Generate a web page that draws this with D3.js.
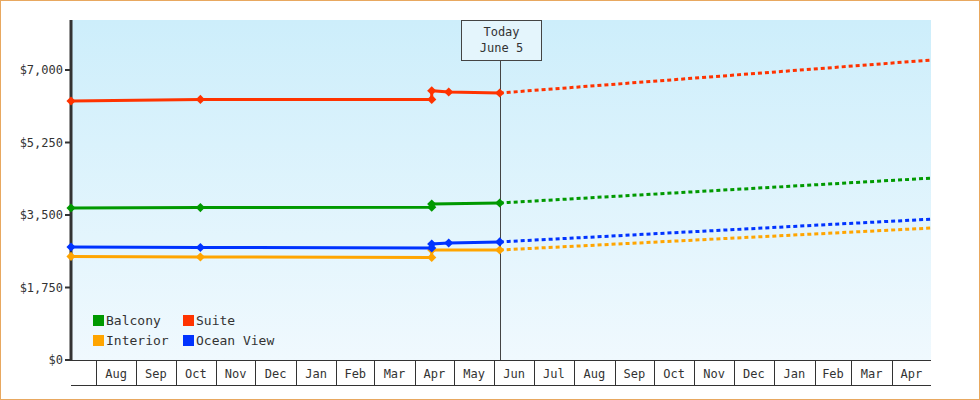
<!DOCTYPE html>
<html><head><meta charset="utf-8">
<script src="https://cdn.jsdelivr.net/npm/d3@7"></script>
<style>body{margin:0;background:#fff}text{font-family:"DejaVu Sans Mono",monospace;fill:#333}</style>
</head><body>
<script>
var parse = d3.timeParse('%Y-%m-%d');
var seriesNames = ['Balcony', 'Suite', 'Interior', 'Ocean View'];
var seriesColors = ['#009900', '#ff3300', '#ffa500', '#0033ff'];
var balcony = [['2023-07-13', 3670], ['2023-10-20', 3680], ['2024-04-14', 3690], ['2024-04-14', 3765], ['2024-06-05', 3790]];
var suite = [['2023-07-13', 6252], ['2023-10-20', 6290], ['2024-04-14', 6290], ['2024-04-14', 6500], ['2024-04-27', 6470], ['2024-06-05', 6445]];
var interior = [['2023-07-13', 2500], ['2023-10-20', 2487], ['2024-04-14', 2475], ['2024-04-14', 2655], ['2024-06-05', 2655]];
var oceanView = [['2023-07-13', 2728], ['2023-10-20', 2715], ['2024-04-14', 2705], ['2024-04-14', 2800], ['2024-04-27', 2825], ['2024-06-05', 2850]];
var forecastEnd = ['2025-05-01', [4390, 7240, 3185, 3400]];
var yTicks = [0, 1750, 3500, 5250, 7000];
var today = '2024-06-05', todayLabel = ['Today', 'June 5'];

var W = 980, H = 400, L = 71, R = 931, T = 20, B = 360;
var svg = d3.select('body').append('svg').attr('width', W).attr('height', H);
var x = d3.scaleTime().domain([parse('2023-07-13'), parse('2025-05-01')]).range([L, R]);
var y = d3.scaleLinear().domain([0, 7000]).range([B, 70]);

svg.append('rect').attr('x', 0.5).attr('y', 0.5).attr('width', W - 1).attr('height', H - 1).attr('fill', 'none').attr('stroke', '#e8a860');
var g = svg.append('defs').append('linearGradient').attr('id', 'bg').attr('x1', 0).attr('x2', 0).attr('y1', 0).attr('y2', 1);
g.append('stop').attr('offset', 0).attr('stop-color', '#cdeefb');
g.append('stop').attr('offset', 1).attr('stop-color', '#f0f9fe');
svg.append('rect').attr('x', L).attr('y', T).attr('width', R - L).attr('height', B - T).attr('fill', 'url(#bg)');

// month cells
var months = d3.timeMonth.range(d3.timeMonth.ceil(x.domain()[0]), x.domain()[1]);
var ax = svg.append('g');
ax.append('line').attr('x1', L).attr('x2', R).attr('y1', B + 0.5).attr('y2', B + 0.5).attr('stroke', '#333');
ax.append('line').attr('x1', L).attr('x2', R).attr('y1', 385.5).attr('y2', 385.5).attr('stroke', '#333');
months.forEach(function(m) {
  var x0 = Math.round(x(m)) + 0.5;
  ax.append('line').attr('x1', x0).attr('x2', x0).attr('y1', B).attr('y2', 385).attr('stroke', '#333');
  var nx = Math.min(x(d3.timeMonth.offset(m, 1)), R);
  ax.append('text').attr('x', (x(m) + nx) / 2).attr('y', 378).attr('text-anchor', 'middle').attr('font-size', 12).text(d3.timeFormat('%b')(m));
});

// y axis
svg.append('line').attr('x1', L).attr('x2', L).attr('y1', T).attr('y2', B + 1).attr('stroke', '#333').attr('stroke-width', 3);
yTicks.forEach(function(v) {
  svg.append('line').attr('x1', L - 6).attr('x2', L).attr('y1', y(v)).attr('y2', y(v)).attr('stroke', '#333').attr('stroke-width', 2);
  svg.append('text').attr('x', L - 8).attr('y', y(v) + 4).attr('text-anchor', 'end').attr('font-size', 12).text('$' + d3.format(',')(v));
});

// today marker
var tx = Math.round(x(parse(today))) + 0.5;
svg.append('line').attr('x1', tx).attr('x2', tx).attr('y1', 60).attr('y2', B).attr('stroke', '#444');
svg.append('rect').attr('x', tx - 39).attr('y', 20.5).attr('width', 80).attr('height', 40).attr('fill', '#e4f5fc').attr('stroke', '#444');
todayLabel.forEach(function(t, i) {
  svg.append('text').attr('x', tx + 1).attr('y', 36 + i * 16).attr('text-anchor', 'middle').attr('font-size', 12).text(t);
});

var data = [balcony, suite, interior, oceanView];
var line = d3.line().x(function(d) { return x(parse(d[0])); }).y(function(d) { return y(d[1]); });
data.forEach(function(s, i) {
  var c = seriesColors[i], last = s[s.length - 1];
  svg.append('path').datum([last, [forecastEnd[0], forecastEnd[1][i]]]).attr('d', line).attr('fill', 'none')
    .attr('stroke', c).attr('stroke-width', 3).attr('stroke-dasharray', '4,3');
  svg.append('path').datum(s).attr('d', line).attr('fill', 'none').attr('stroke', c).attr('stroke-width', 3);
  svg.selectAll(null).data(s).enter().append('path')
    .attr('d', d3.symbol(d3.symbolSquare, 42))
    .attr('transform', function(d) { return 'translate(' + x(parse(d[0])) + ',' + y(d[1]) + ') rotate(45)'; })
    .attr('fill', c);
});

// legend
seriesNames.forEach(function(n, i) {
  var lx = 93 + (i % 2) * 90, ly = 315 + Math.floor(i / 2) * 20;
  svg.append('rect').attr('x', lx).attr('y', ly).attr('width', 11).attr('height', 11).attr('fill', seriesColors[i]);
  svg.append('text').attr('x', lx + 13).attr('y', ly + 10).attr('font-size', 13).text(n);
});
</script>
</body></html>
